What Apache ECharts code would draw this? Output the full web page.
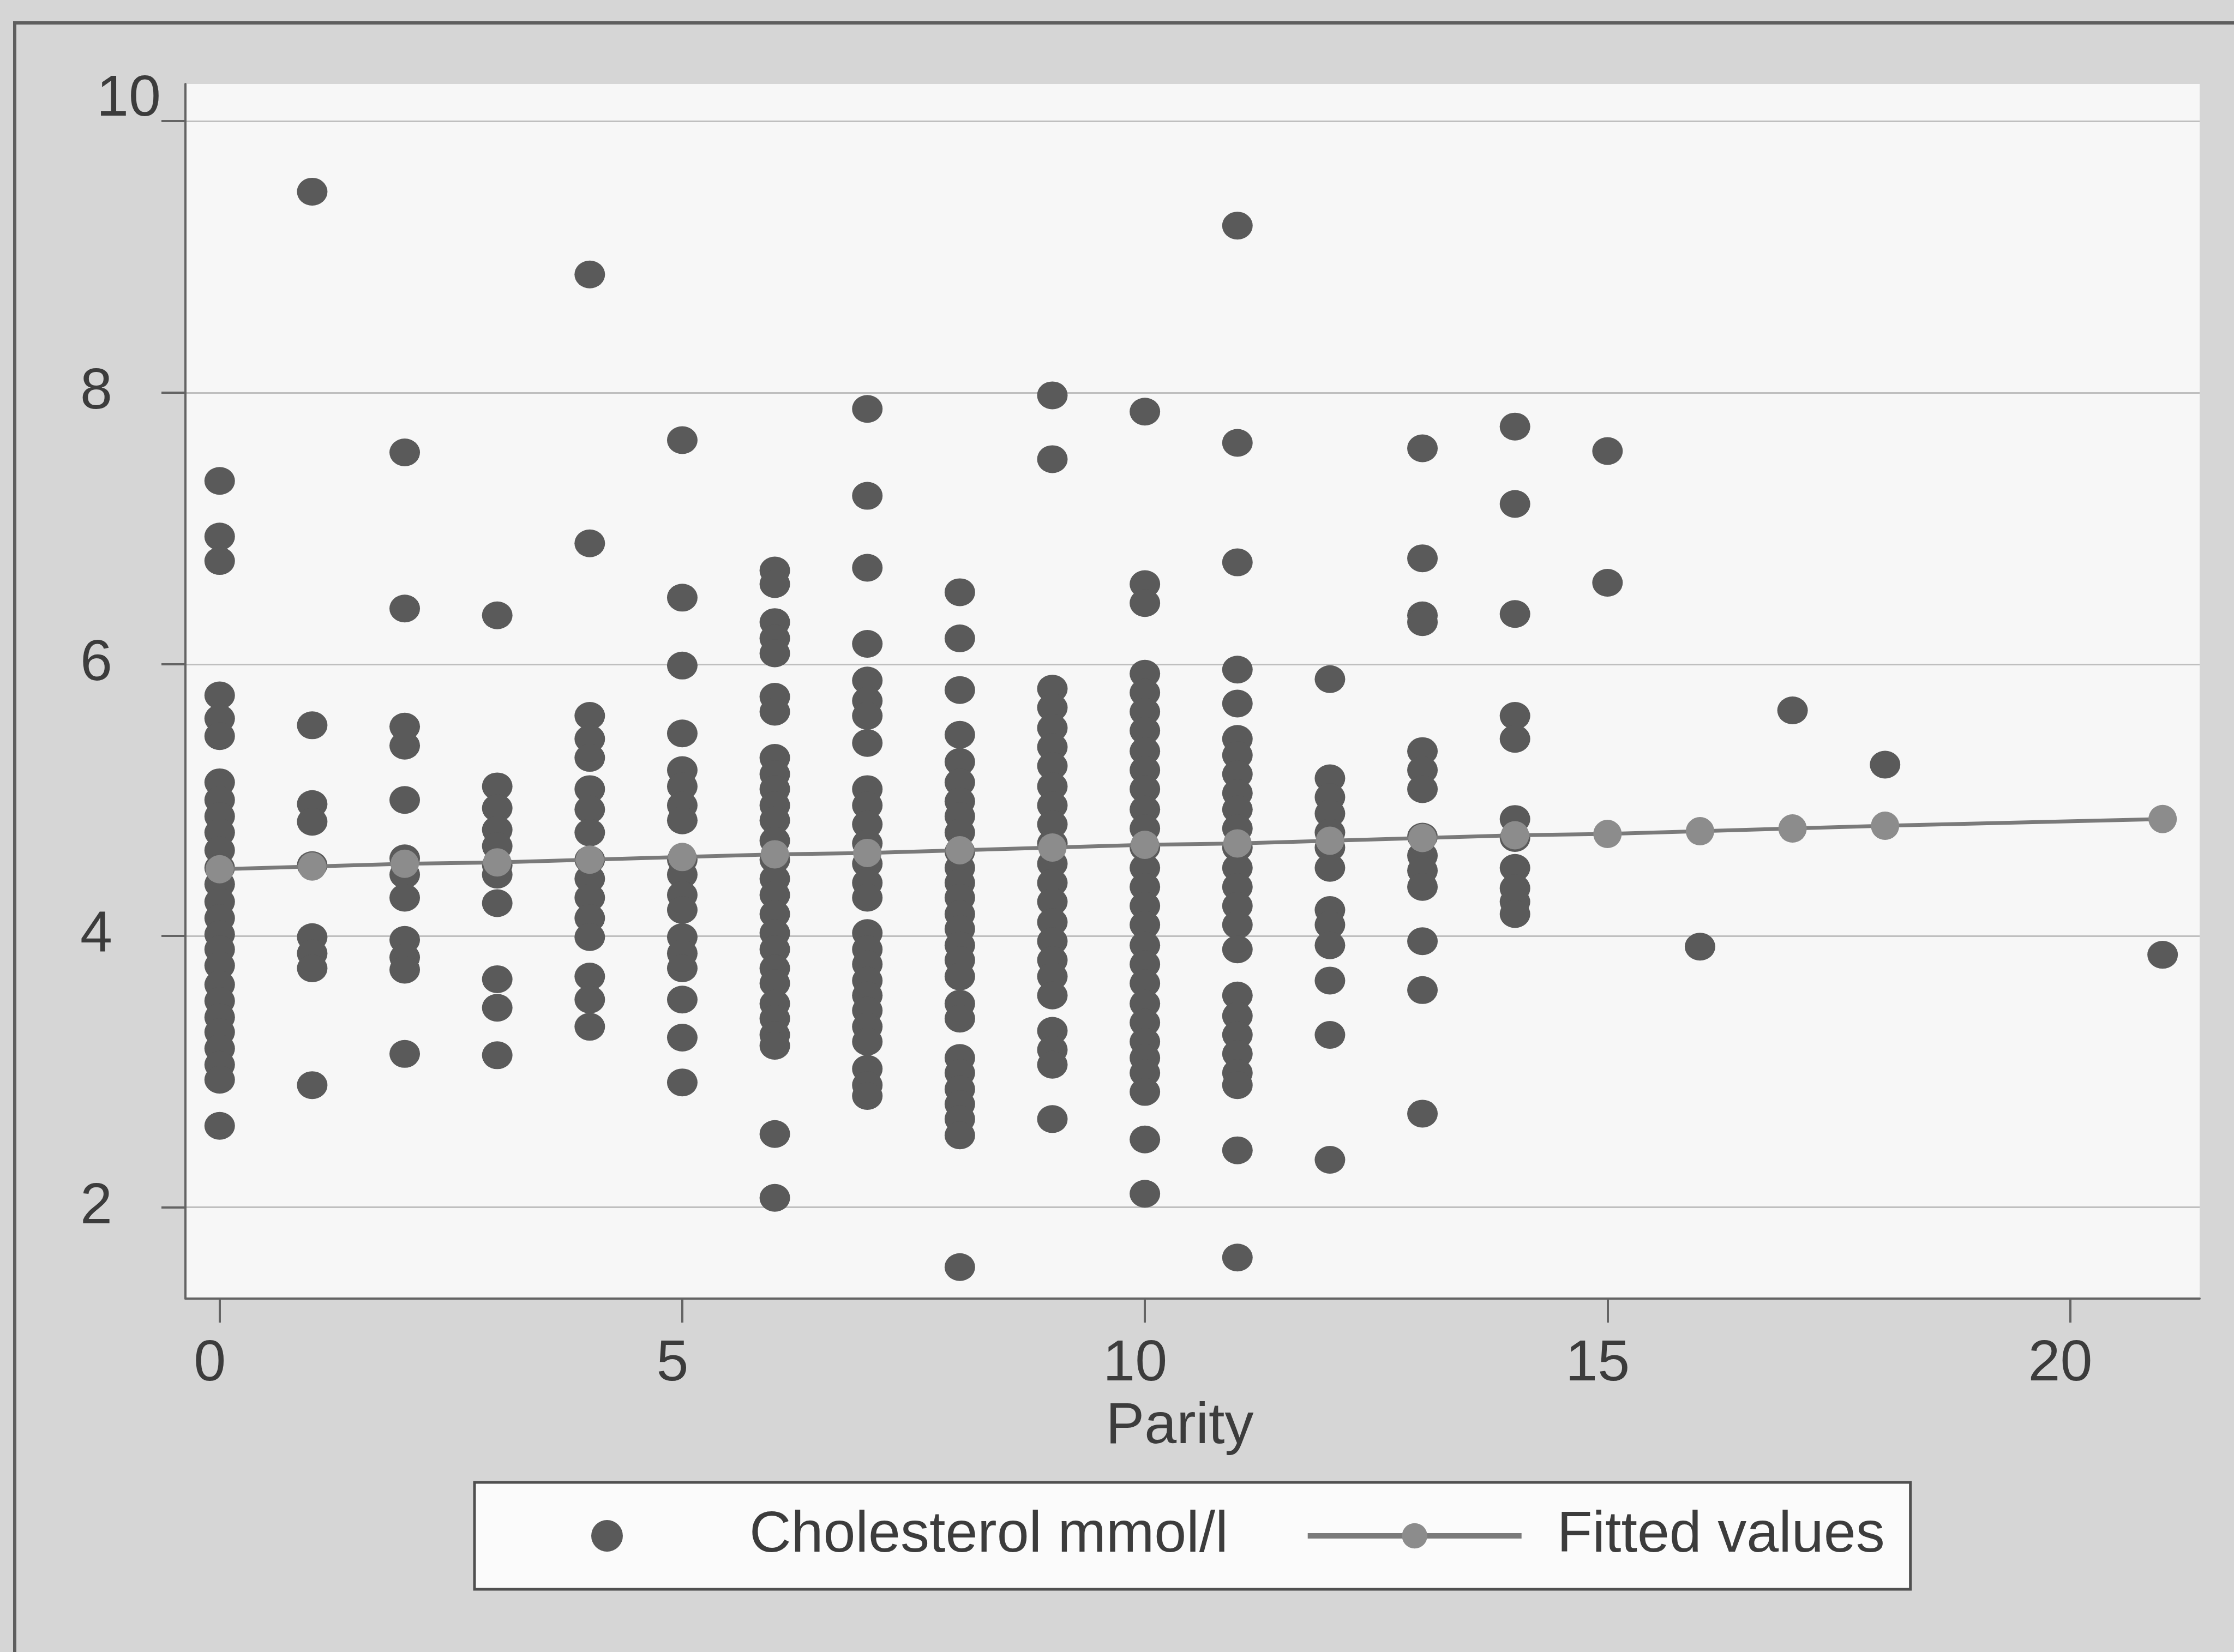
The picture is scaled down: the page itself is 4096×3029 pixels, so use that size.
<!DOCTYPE html>
<html>
<head>
<meta charset="utf-8">
<title>Cholesterol by parity</title>
<script src="https://cdn.jsdelivr.net/npm/echarts@6.0.0/dist/echarts.min.js"></script>
<style>
  html, body { margin: 0; padding: 0; background: #d6d6d6; }
  #main { width: 4096px; height: 3029px; }
</style>
</head>
<body>
<div id="main"></div>
<script>
// Cholesterol mmol/l readings per parity
const chol0 = [7.35, 6.94, 6.76, 5.77, 5.60, 5.47, 5.13, 5.00, 4.88, 4.76, 4.63, 4.50, 4.38, 4.25, 4.13, 4.01, 3.90, 3.78, 3.64, 3.52, 3.40, 3.29, 3.17, 3.05, 2.94, 2.60];
const chol1 = [9.48, 5.55, 4.97, 4.84, 4.52, 3.99, 3.87, 3.76, 2.90];
const chol2 = [7.56, 6.41, 5.54, 5.40, 5.00, 4.57, 4.45, 4.28, 3.97, 3.84, 3.75, 3.13];
const chol3 = [6.36, 5.10, 4.94, 4.78, 4.66, 4.52, 4.45, 4.24, 3.68, 3.47, 3.12];
const chol4 = [8.87, 6.89, 5.62, 5.45, 5.31, 5.08, 4.93, 4.76, 4.56, 4.42, 4.28, 4.13, 3.99, 3.70, 3.53, 3.33];
const chol5 = [7.65, 6.49, 5.99, 5.49, 5.22, 5.10, 4.96, 4.85, 4.56, 4.45, 4.30, 4.19, 3.99, 3.87, 3.76, 3.53, 3.25, 2.92];
const chol6 = [6.69, 6.59, 6.31, 6.19, 6.08, 5.76, 5.65, 5.31, 5.19, 5.08, 4.96, 4.85, 4.70, 4.56, 4.42, 4.30, 4.16, 4.02, 3.90, 3.76, 3.65, 3.50, 3.39, 3.27, 3.19, 2.54, 2.07];
const chol7 = [7.88, 7.24, 6.71, 6.15, 5.88, 5.73, 5.62, 5.42, 5.08, 4.96, 4.82, 4.68, 4.53, 4.39, 4.28, 4.02, 3.90, 3.79, 3.67, 3.56, 3.45, 3.33, 3.22, 3.02, 2.90, 2.82];
const chol8 = [6.53, 6.19, 5.81, 5.48, 5.28, 5.13, 4.99, 4.88, 4.76, 4.62, 4.50, 4.39, 4.28, 4.16, 4.05, 3.93, 3.82, 3.70, 3.50, 3.39, 3.10, 2.99, 2.87, 2.76, 2.65, 2.53, 1.56];
const chol9 = [7.98, 7.51, 5.82, 5.68, 5.53, 5.39, 5.25, 5.10, 4.96, 4.82, 4.68, 4.53, 4.39, 4.25, 4.10, 3.96, 3.82, 3.70, 3.56, 3.30, 3.16, 3.05, 2.65];
const chol10 = [7.86, 6.59, 6.45, 5.93, 5.79, 5.65, 5.51, 5.36, 5.22, 5.08, 4.93, 4.79, 4.65, 4.50, 4.36, 4.22, 4.08, 3.93, 3.79, 3.65, 3.50, 3.36, 3.22, 3.10, 2.99, 2.85, 2.50, 2.10];
const chol11 = [9.23, 7.63, 6.75, 5.96, 5.71, 5.45, 5.33, 5.19, 5.05, 4.93, 4.79, 4.65, 4.50, 4.36, 4.22, 4.08, 3.90, 3.56, 3.41, 3.27, 3.13, 2.99, 2.90, 2.42, 1.63];
const chol12 = [5.89, 5.16, 5.02, 4.90, 4.76, 4.65, 4.50, 4.19, 4.08, 3.93, 3.67, 3.27, 2.35];
const chol13 = [7.59, 6.78, 6.36, 6.31, 5.36, 5.22, 5.08, 4.73, 4.59, 4.48, 4.36, 3.96, 3.60, 2.69];
const chol14 = [7.75, 7.18, 6.37, 5.62, 5.45, 4.86, 4.72, 4.50, 4.35, 4.25, 4.16];
const chol15 = [7.57, 6.60];
const chol16 = [3.92];
const chol17 = [5.66];
const chol18 = [5.26];
const chol21 = [3.86];

const parityLevels = [0, 1, 2, 3, 4, 5, 6, 7, 8, 9, 10, 11, 12, 13, 14, 15, 16, 17, 18, 21];
const cholByParity = [chol0, chol1, chol2, chol3, chol4, chol5, chol6, chol7, chol8, chol9,
  chol10, chol11, chol12, chol13, chol14, chol15, chol16, chol17, chol18, chol21];

// fitted regression values at each observed parity
const fitParity = [0, 1, 2, 3, 4, 5, 6, 7, 8, 9, 10, 11, 12, 13, 14, 15, 16, 17, 18, 21];
const fitValues = [4.49, 4.51, 4.53, 4.54, 4.56, 4.58, 4.60, 4.61, 4.63, 4.65, 4.67, 4.68, 4.70, 4.72, 4.74, 4.75, 4.77, 4.79, 4.81, 4.86];

const xTicks = [0, 5, 10, 15, 20];
const yTicks = [2, 4, 6, 8, 10];

const FONT = 'Liberation Sans';
const textColor = '#3c3c3c';
const axisColor = '#646464';
const dotColor = '#5a5a5a';
const fitDotColor = '#8c8c8c';
const fitLineColor = '#7a7a7a';

const scatterData = [];
parityLevels.forEach((p, i) => {
  cholByParity[i].forEach(v => scatterData.push([p, v]));
});
const fitData = fitParity.map((p, i) => [p, fitValues[i]]);

const chart = echarts.init(document.getElementById('main'), null, {renderer: 'canvas'});

const option = {
  backgroundColor: '#d6d6d6',
  animation: false,
  textStyle: {fontFamily: FONT},
  graphic: [
    {
      // outer frame of the graph region (top and left edges visible in scan)
      type: 'polyline',
      silent: true,
      shape: {points: [[27, 3029], [27, 42], [4096, 42]]},
      style: {stroke: '#5e5e5e', lineWidth: 6, fill: null}
    }
  ],
  grid: {
    left: 340,
    right: 63,
    top: 154,
    bottom: 648,
    show: true,
    backgroundColor: '#f7f7f7',
    borderWidth: 0,
    outerBoundsMode: 'none'
  },
  legend: {
    left: 870,
    top: 2718,
    orient: 'horizontal',
    backgroundColor: '#fbfbfb',
    borderColor: '#505050',
    borderWidth: 5,
    borderRadius: 0,
    padding: [38, 47, 38, 214],
    itemWidth: 392,
    itemHeight: 58,
    itemGap: 141,
    textStyle: {
      fontFamily: FONT,
      fontSize: 106,
      lineHeight: 120,
      color: textColor,
      padding: [0, 0, 0, 60]
    },
    data: [
      {name: 'Cholesterol mmol/l', icon: 'circle'},
      {name: 'Fitted values', lineStyle: {width: 10, color: fitLineColor}}
    ]
  },
  xAxis: {
    type: 'value',
    min: -0.37,
    max: 21.4,
    name: 'Parity',
    nameLocation: 'middle',
    nameGap: 183,
    nameTextStyle: {fontFamily: FONT, fontSize: 106, color: textColor, padding: [0, 47, 0, 0]},
    axisLine: {show: true, onZero: false, lineStyle: {color: axisColor, width: 4}},
    axisTick: {show: true, inside: false, length: 44, customValues: xTicks, lineStyle: {color: axisColor, width: 4}},
    axisLabel: {
      customValues: xTicks,
      margin: 68,
      fontFamily: FONT,
      fontSize: 106,
      color: textColor,
      padding: [0, 36, 0, 0]
    },
    splitLine: {show: false}
  },
  yAxis: {
    type: 'value',
    min: 1.328,
    max: 10.273,
    axisLine: {show: true, onZero: false, lineStyle: {color: axisColor, width: 4}},
    axisTick: {show: true, inside: false, length: 44, customValues: yTicks, lineStyle: {color: axisColor, width: 4}},
    axisLabel: {
      customValues: yTicks,
      margin: 45,
      formatter: v => (v === 10 ? '{top|10}' : '{n|' + v + '}'),
      rich: {
        n: {fontFamily: FONT, fontSize: 106, color: textColor, padding: [0, 89, 0, 0]},
        top: {fontFamily: FONT, fontSize: 106, color: textColor, padding: [0, 0, 78, 0]}
      }
    },
    splitLine: {show: true, lineStyle: {color: '#bfbfbf', width: 3}}
  },
  series: [
    {
      name: 'Cholesterol mmol/l',
      type: 'scatter',
      data: scatterData,
      symbol: 'circle',
      symbolSize: [56, 51],
      itemStyle: {color: dotColor, opacity: 1},
      z: 2
    },
    {
      name: 'Fitted values',
      type: 'line',
      data: fitData,
      symbol: 'circle',
      symbolSize: 52,
      showSymbol: true,
      showAllSymbol: true,
      lineStyle: {color: fitLineColor, width: 7},
      itemStyle: {color: fitDotColor},
      z: 3
    }
  ]
};

chart.setOption(option);
</script>
</body>
</html>
